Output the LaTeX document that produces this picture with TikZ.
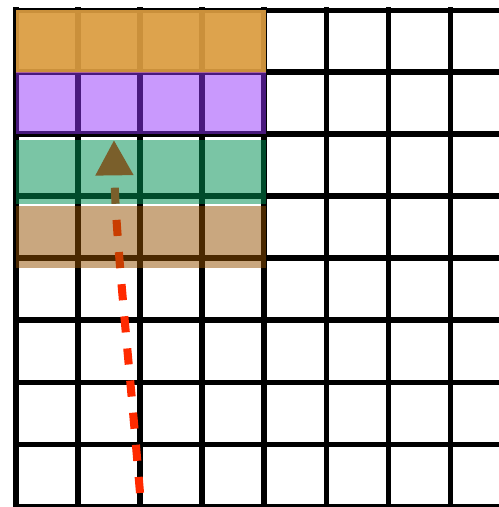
\documentclass[tikz,border=0pt]{standalone}
\usepackage{tikz}
\usetikzlibrary{arrows.meta}

\definecolor{bandorange}{RGB}{218,156,64}
\definecolor{bandpurple}{RGB}{147,51,251}
\definecolor{bandgreen}{RGB}{0,144,83}
\definecolor{bandbrown}{RGB}{148,80,0}
\definecolor{pathred}{RGB}{255,42,0}

\begin{document}
\begin{tikzpicture}[
  gridline/.style={line width=2.3pt, line cap=rect, black},
  band/.style={draw=none, fill opacity=#1},
  walk/.style={pathred, line width=3.7pt, dash pattern=on 7.4pt off 7.4pt,
    -{Triangle[length=0.57cm, width=0.58cm]}}
]
  \useasboundingbox (-0.2581,0.1613) rectangle (7.7903,-8.0161);

  % board
  \draw[gridline] (0,0) grid (8,-8);

  % path up the column
  \coordinate (start) at (2.0,-7.79);
  \coordinate (tip) at (1.58,-2.097);
  \draw[walk] (start) .. controls (1.82,-5.6) and (1.6,-3.6) .. (tip);

  % rows laid over the board
  \fill[band=0.93, bandorange] (0,0) rectangle (4.03,-1.016);
  \fill[band=0.5, bandpurple] (0,-1.0) rectangle (4.03,-1.997);
  \fill[band=0.52, bandgreen] (0,-2.097) rectangle (4.03,-3.129);
  \fill[band=0.5, bandbrown] (0,-3.156) rectangle (4.03,-4.161);
\end{tikzpicture}
\end{document}
